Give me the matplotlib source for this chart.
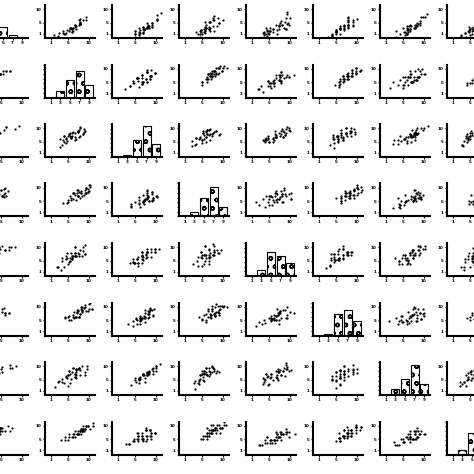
import matplotlib
matplotlib.use("Agg")
import matplotlib.pyplot as plt
import numpy as np

# eight items (1-10 scale), 40 respondents each
v1 = [2,3,1,4,2,5,3,2,6,1,3,4,2,7,3,2,5,1,4,3,2,6,3,1,4,8,2,3,5,2,4,3,1,6,2,3,4,2,5,3]
v2 = [6,7,5,8,6,9,7,6,9,4,7,8,6,10,7,5,8,4,8,7,6,9,7,3,8,10,5,7,9,6,8,7,4,9,6,7,8,5,9,7]
v3 = [7,7,6,8,6,9,8,6,9,5,7,8,7,9,7,6,8,5,8,7,6,9,8,4,8,10,6,7,9,7,8,7,5,9,6,7,8,6,9,8]
v4 = [6,8,5,7,7,9,6,7,8,4,8,7,6,10,8,5,7,5,9,6,7,8,7,4,7,9,6,8,8,5,9,6,4,10,7,6,7,6,8,7]
v5 = [5,7,6,8,5,8,7,5,9,4,6,9,7,9,6,6,8,3,7,8,5,9,6,4,9,9,5,6,10,6,7,8,5,8,5,8,9,4,8,6]
v6 = [7,6,5,9,6,10,8,6,8,5,7,7,5,9,8,6,9,4,8,6,7,10,7,5,8,9,6,7,8,7,9,6,5,9,6,7,7,5,10,8]
v7 = [6,7,4,8,7,9,7,5,9,5,8,8,6,9,7,4,8,5,7,7,6,8,8,3,8,10,5,8,9,6,8,7,4,9,7,6,8,6,9,7]
v8 = [5,8,5,7,6,9,6,6,8,4,7,8,7,10,6,5,9,4,8,6,6,9,7,4,7,9,6,7,8,6,8,8,5,9,6,7,9,5,8,7]
data = [v1, v2, v3, v4, v5, v6, v7, v8]
# response scatter around each answer
off = [0.0, 0.9, -0.7, 1.3, -1.2, 0.4, -1.0, 0.7, -0.4, 1.1, -1.4, 0.2]
hist_edges = [0.5, 2.5, 4.5, 6.5, 8.5, 10.5]

W = 474.0
fig = plt.figure(figsize=(4.74, 4.74), dpi=100, facecolor="white")
n = len(data)
for r in range(n):
    for c in range(n):
        left = (-22 + 67 * c) / W
        bottom = 1 - (38 + 59.5 * r) / W
        ax = fig.add_axes([left, bottom, 50 / W, 33 / W])
        if r == c:
            ax.hist(data[c], bins=hist_edges, color="white", edgecolor="black",
                    hatch="oo", lw=0.8, rwidth=0.85)
            ax.set_xticks([1.5, 3.5, 5.5, 7.5, 9.5])
            ax.set_xticklabels(["1", "3", "5", "7", "9"])
            ax.set_yticks(np.arange(0, 22, 3))
            ax.set_yticklabels([])
            ax.set_xlim(0.3, 10.7)
        else:
            x = np.array(data[c], float) + np.array([off[(i * (c + 1) + r) % 12] for i in range(40)])
            y = np.array(data[r], float) + np.array([off[(i * (r + 5) + c) % 12] for i in range(40)])
            ax.scatter(x, y, s=2.5, color="black", lw=0)
            ax.set_xlim(-0.5, 11.5); ax.set_ylim(-0.5, 11.5)
            ax.set_xticks([1, 5, 10]); ax.set_yticks([1, 5, 10])
        for s in ["top", "right"]:
            ax.spines[s].set_visible(False)
        for s in ["left", "bottom"]:
            ax.spines[s].set_linewidth(1.5)
        ax.tick_params(labelsize=3, length=1.5, width=0.8, pad=1)
        for lab in ax.get_xticklabels() + ax.get_yticklabels():
            lab.set_fontweight("bold")

fig.savefig("out.png", dpi=100)
